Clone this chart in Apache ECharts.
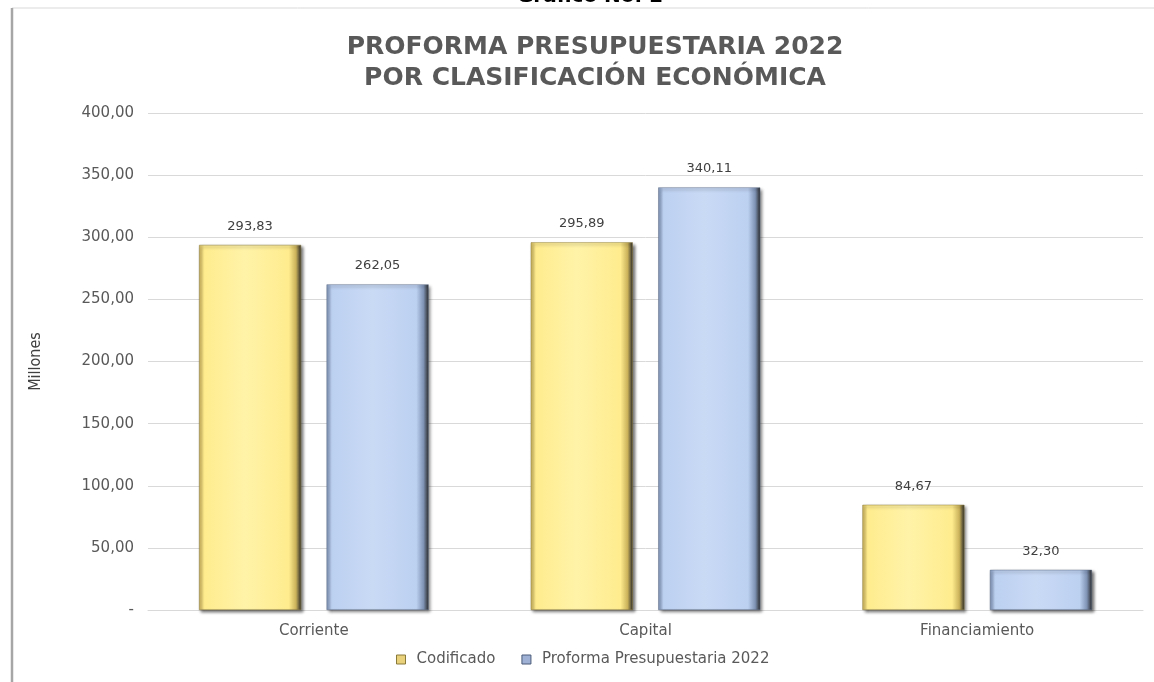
<!DOCTYPE html>
<html><head><meta charset="utf-8">
<script src="https://cdn.jsdelivr.net/npm/echarts@6/dist/echarts.min.js"></script>
<style>html,body{margin:0;padding:0;background:#fff}#c{width:1154px;height:682px}</style>
</head><body><div id="c"></div>
<script>
const categories = ['Corriente', 'Capital', 'Financiamiento'];
const codificado = [293.83, 295.89, 84.67];
const proforma = [262.05, 340.11, 32.30];
const seriesNames = ['Codificado', 'Proforma Presupuestaria 2022'];
const titleLines = ['PROFORMA PRESUPUESTARIA 2022', 'POR CLASIFICACIÓN ECONÓMICA'];

const fmt = v => v === 0 ? '-' : v.toFixed(2).replace('.', ',');
const font = '"DejaVu Sans", Verdana, sans-serif';

function grad(light, mid, dark) {
  return new echarts.graphic.LinearGradient(0, 0, 1, 0, [
    {offset: 0, color: dark}, {offset: 0.05, color: mid}, {offset: 0.45, color: light},
    {offset: 0.88, color: mid}, {offset: 0.95, color: dark}, {offset: 1, color: '#2a2a2a'}
  ]);
}

const chart = echarts.init(document.getElementById('c'));
chart.setOption({
  backgroundColor: '#fff',
  animation: false,
  title: {
    text: titleLines.join('\n'), left: 590, textAlign: 'center', top: 27,
    textStyle: {fontFamily: font, fontSize: 25, fontWeight: 'bold', color: '#595959', lineHeight: 31}
  },
  graphic: [
    {type: 'text', x: 590, y: -13, style: {text: 'Gráfico No. 2', font: 'bold 20px ' + font, fill: '#000', textAlign: 'center'}},
    {type: 'line', shape: {x1: 12, y1: 8, x2: 1154, y2: 8}, style: {stroke: '#d9d9d9', lineWidth: 1}},
    {type: 'line', shape: {x1: 12, y1: 8, x2: 12, y2: 682}, style: {stroke: '#a6a6a6', lineWidth: 2.5}}
  ],
  legend: {
    bottom: 10, left: 391, itemGap: 26, itemWidth: 9, itemHeight: 9, icon: 'rect',
    textStyle: {fontFamily: font, fontSize: 15, color: '#595959', padding: [0, 0, 0, 6]},
    data: [
      {name: seriesNames[0], itemStyle: {color: '#e8d17a', borderColor: '#8a7a3a', borderWidth: 1}},
      {name: seriesNames[1], itemStyle: {color: '#9fb2d6', borderColor: '#4a5a78', borderWidth: 1}}
    ]
  },
  grid: {left: 148, right: 11, top: 113, bottom: 72},
  xAxis: {
    type: 'category', data: categories,
    axisLine: {lineStyle: {color: '#d9d9d9'}}, axisTick: {show: false},
    axisLabel: {fontFamily: font, fontSize: 15, color: '#595959', margin: 14}
  },
  yAxis: {
    type: 'value', min: 0, max: 400, interval: 50,
    name: 'Millones', nameLocation: 'middle', nameGap: 104, nameRotate: 90,
    nameTextStyle: {fontFamily: '"Liberation Sans Narrow", "DejaVu Sans Condensed", sans-serif', fontSize: 16, color: '#404040'},
    axisLabel: {fontFamily: font, fontSize: 15, color: '#595959', margin: 14, formatter: fmt},
    splitLine: {lineStyle: {color: '#d9d9d9'}},
    axisLine: {show: false}, axisTick: {show: false}
  },
  series: [
    {
      name: seriesNames[0], type: 'bar', data: codificado, barWidth: 102, barGap: '25%',
      itemStyle: {color: grad('#fff3a8', '#ffec8e', '#c9b15a'), borderColor: '#8a7a3a', borderWidth: 0.5,
        shadowColor: 'rgba(0,0,0,0.55)', shadowBlur: 3, shadowOffsetX: 2, shadowOffsetY: 2},
      label: {show: true, position: 'top', distance: 12, fontFamily: font, fontSize: 13, color: '#404040',
        formatter: p => fmt(p.value)}
    },
    {
      name: seriesNames[1], type: 'bar', data: proforma, barWidth: 102,
      itemStyle: {color: grad('#c9daf5', '#bcd0f0', '#7f93b5'), borderColor: '#5a6a85', borderWidth: 0.5,
        shadowColor: 'rgba(0,0,0,0.55)', shadowBlur: 3, shadowOffsetX: 2, shadowOffsetY: 2},
      label: {show: true, position: 'top', distance: 12, fontFamily: font, fontSize: 13, color: '#404040',
        formatter: p => fmt(p.value)}
    }
  ]
});
</script></body></html>
